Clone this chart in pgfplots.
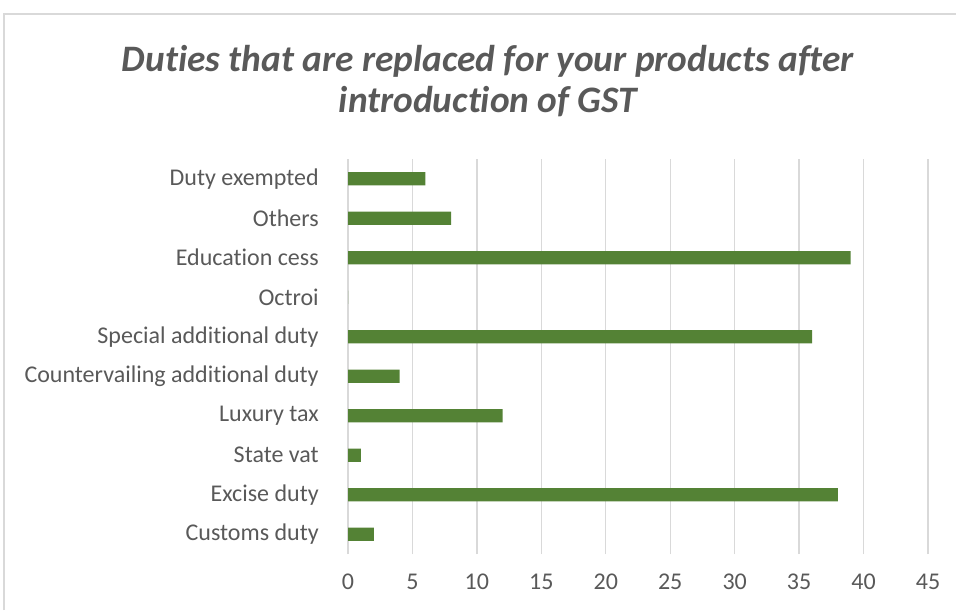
\documentclass[border=0pt]{standalone}
\usepackage{pgfplots}
\pgfplotsset{compat=1.18}
\usepackage{fontspec}
\setmainfont{Carlito}[Ligatures=CommonOff]
\definecolor{barcol}{HTML}{548235}
\definecolor{gridcol}{HTML}{D9D9D9}
\definecolor{txtcol}{HTML}{595959}
\begin{document}
\begin{tikzpicture}[x=0.75pt,y=0.75pt]
% page = 956 x 610 px, 1px = 0.75pt
\useasboundingbox (0,0) rectangle (956,610);
\draw[gridcol, line width=1pt] (4,0) -- (4,596) -- (956,596);
\node[anchor=base, text=txtcol, font=\fontsize{28}{32}\selectfont\bfseries\itshape] at (488,538) {Duties that are replaced for your products after};
\node[anchor=base, text=txtcol, font=\fontsize{28}{32}\selectfont\bfseries\itshape] at (488,497) {introduction of GST};
\begin{axis}[
    at={(261pt,42pt)}, anchor=south west,
    scale only axis,
    width=435pt, height=296.25pt,
    xbar,
    bar width=10.1pt,
    xmin=0, xmax=45,
    ymin=-0.5, ymax=9.5,
    xtick={0,5,...,45},
    ytick={0,...,9},
    yticklabels={Customs duty,Excise duty,State vat,Luxury tax ,Countervailing additional duty,Special additional duty,Octroi,Education cess ,Others,Duty exempted},
    axis lines*=left,
    axis line style={draw=none},
    major tick length=0pt,
    xmajorgrids=true,
    ymajorgrids=false,
    grid style={gridcol, line width=1pt},
    tick label style={text=txtcol, font=\fontsize{18}{21}\selectfont},
    yticklabel style={anchor=east, inner sep=0pt, xshift=-21.75pt},
    xticklabel style={anchor=north, inner sep=0pt, yshift=-15pt},
    /pgf/number format/assume math mode=true,
]
\addplot[fill=barcol, draw=none] coordinates {
(2,0) (38,1) (1,2) (12,3) (4,4) (36,5) (0,6) (39,7) (8,8) (6,9)};
\end{axis}
\end{tikzpicture}
\end{document}
